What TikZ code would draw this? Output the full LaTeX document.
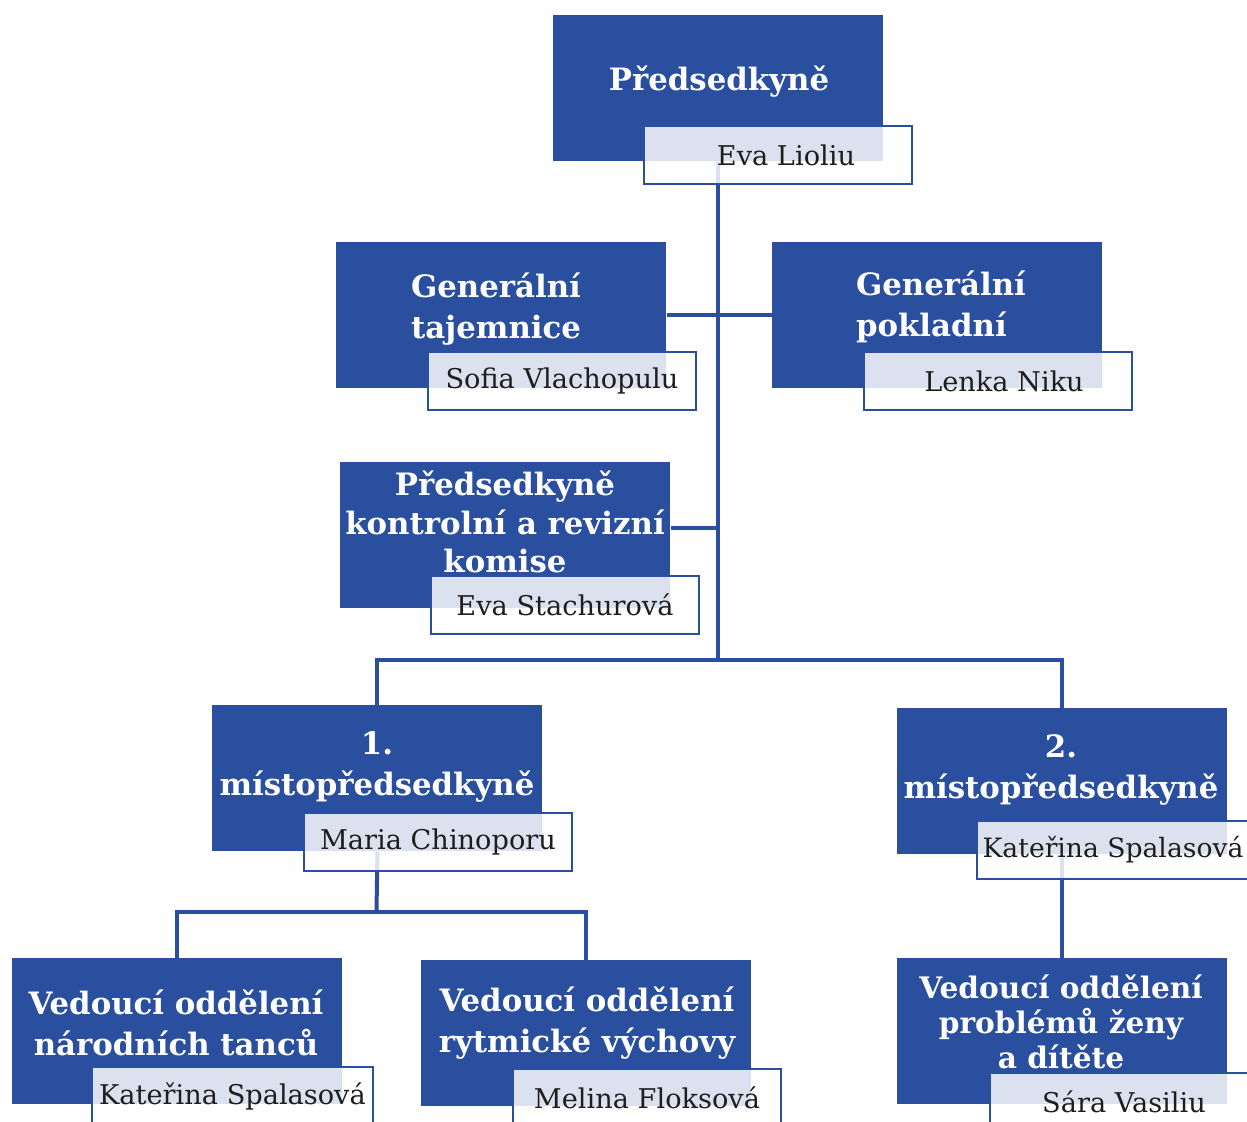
\documentclass[tikz,border=0pt]{standalone}
\usepackage{fontspec}
\setmainfont{DejaVu Serif}
\definecolor{orgblue}{HTML}{2A4F9E}
\definecolor{nametxt}{HTML}{1E1E1E}
\tikzset{
  bluebox/.style={fill=orgblue, draw=none, anchor=north west, inner sep=0pt,
    minimum width=165pt, minimum height=73pt},
  namebox/.style={draw=orgblue, line width=1pt, fill=white, fill opacity=0.83,
    text opacity=1, anchor=north west, inner sep=0pt, minimum width=134pt,
    minimum height=29pt, text=nametxt, font=\fontsize{13.6}{16}\selectfont},
  title/.style={text=white, align=center, inner sep=0pt,
    font=\bfseries\fontsize{15.4}{20.5}\selectfont},
  conn/.style={draw=orgblue, line width=2pt}
}
\begin{document}
\begin{tikzpicture}[x=0.5pt, y=-0.5pt]
\useasboundingbox (0,0) rectangle (1247,1122);
\fill[white] (0,0) rectangle (1247,1122);
\clip (0,0) rectangle (1247,1122);
% blue boxes
\node[bluebox] (b1) at (553,15) {};
\node[bluebox] (b2) at (336,242) {};
\node[bluebox] (b3) at (772,242) {};
\node[bluebox] (b4) at (340,462) {};
\node[bluebox] (b5) at (212,705) {};
\node[bluebox] (b6) at (897,708) {};
\node[bluebox] (b7) at (12,958) {};
\node[bluebox] (b8) at (421,960) {};
\node[bluebox] (b9) at (897,958) {};
% junctions
\coordinate (j1) at (718,660);
\coordinate (j2) at (376.5,912);
% connectors
\draw[conn] (b1.south -| j1) -- (j1);
\draw[conn] (b2.east) -- (b3.west);
\draw[conn] ([yshift=3.5pt]b4.east) -- ([yshift=3.5pt]b4.east -| j1);
\draw[conn] (b5.north) |- (j1) -| (b6.north);
\draw[conn] (b5.south) -- (j2);
\draw[conn] (b7.north) |- (j2) -| (b8.north);
\draw[conn] (b6.south) -- (b9.north);
% name boxes
\node[namebox] (n1) at (643,125) {\hspace*{8pt}Eva Lioliu};
\node[namebox] (n2) at (427,351) {Sofia Vlachopulu};
\node[namebox] (n3) at (863,351) {\hspace*{6pt}Lenka Niku};
\node[namebox] (n4) at (430,575) {Eva Stachurová};
\node[namebox] (n5) at (303,812) {Maria Chinoporu};
\node[namebox, minimum width=140pt, font=\fontsize{13.3}{16}\selectfont] (n6) at (976,820) {\hspace*{-4pt}Kateřina Spalasová};
\node[namebox, minimum width=140.5pt] (n7) at (91,1066) {Kateřina Spalasová};
\node[namebox] (n8) at (512,1068) {Melina Floksová};
\node[namebox] (n9) at (989,1072) {Sára Vasiliu};
% titles
\node[title] (t1) at (719,82) {Předsedkyně};
\node[title, align=left] (t2) at (496,309) {Generální\\tajemnice};
\node[title, align=left] (t3) at (941,307) {Generální\\pokladní};
\node[title, font=\bfseries\fontsize{15.4}{19.3}\selectfont] (t4) at (505,522) {Předsedkyně\\kontrolní a revizní\\komise};
\node[title] (t5) at (377,767) {1.\\místopředsedkyně};
\node[title] (t6) at (1061,770) {2.\\místopředsedkyně};
\node[title] (t7) at (176,1023) {Vedoucí oddělení\\národních tanců};
\node[title] (t8) at (587,1023) {Vedoucí oddělení\\rytmické výchovy};
\node[title, font=\bfseries\fontsize{14.8}{17.5}\selectfont] (t9) at (1061,1022) {Vedoucí oddělení\\problémů ženy\\a dítěte};
\end{tikzpicture}
\end{document}
